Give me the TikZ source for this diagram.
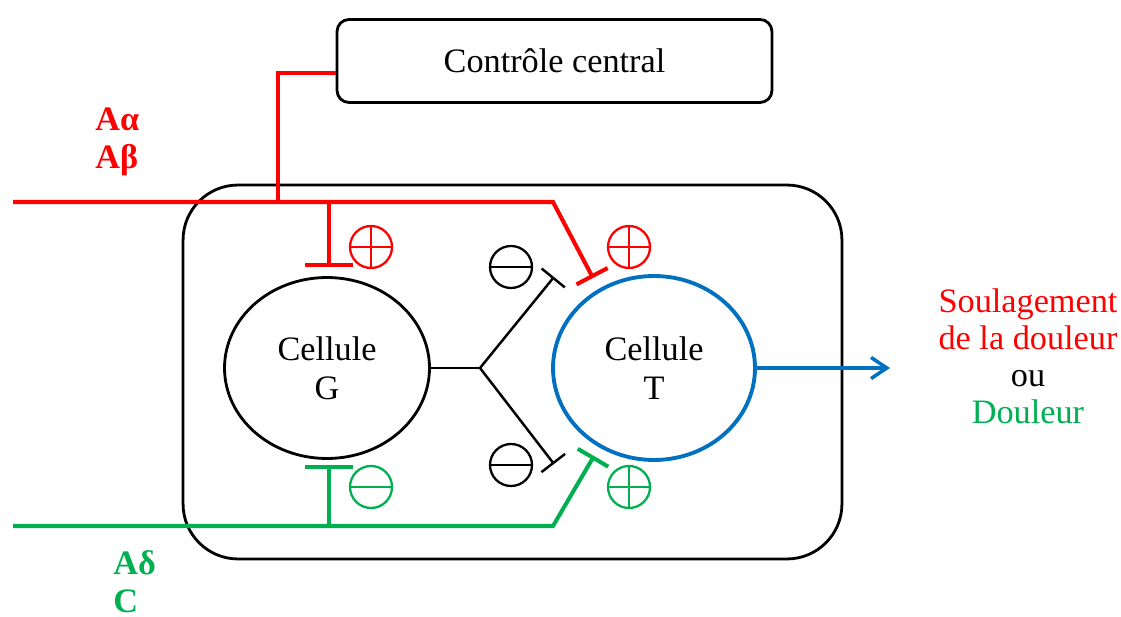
\documentclass[tikz,border=0pt]{standalone}
\usepackage{fontspec}
\setmainfont{Liberation Serif}
\usetikzlibrary{arrows.meta}
\usetikzlibrary{positioning}
\usetikzlibrary{shapes.geometric}

\definecolor{fibred}{RGB}{255,0,0}
\definecolor{fibgreen}{RGB}{0,176,80}
\definecolor{cellblue}{RGB}{0,112,192}

\begin{document}
\begin{tikzpicture}[x=0.02cm, y=-0.02cm,
    every node/.style={font=\fontsize{19.5}{22}\selectfont},
    box/.style={draw, line width=1.6pt, rounded corners=0.24cm},
    cell/.style={ellipse, draw, line width=1.6pt, align=center, inner sep=0pt},
    fibre/.style={line width=2.3pt},
    link/.style={line width=1.4pt},
    inhibwide/.style={-{Bar[width=27pt]}},
    inhibnarrow/.style={-{Bar[width=20pt]}},
    sign/.style={circle, draw, line width=1.3pt, minimum size=0.84cm, inner sep=0pt},
    minuscirc/.style={sign, path picture={
        \draw[line width=1.3pt] (path picture bounding box.west) -- (path picture bounding box.east);}},
    pluscirc/.style={sign, path picture={
        \draw[line width=1.3pt] (path picture bounding box.west) -- (path picture bounding box.east)
            (path picture bounding box.north) -- (path picture bounding box.south);}}]
    \useasboundingbox (0,0) rectangle (1121,617);

    % boxes and cells
    \node[box, minimum width=8.7cm, minimum height=1.66cm] (ctrl) at (554.5,61) {Contrôle central};
    \node[box, rounded corners=1.1cm, minimum width=13.18cm, minimum height=7.48cm] (horn) at (512.5,372) {};
    \node[cell, minimum width=4.1cm, minimum height=3.62cm] (G) at (327,368) {Cellule\\G};
    \node[cell, draw=cellblue, line width=2.2pt, minimum width=4.04cm, minimum height=3.68cm] (T) at (654,368) {Cellule\\T};

    % fibres
    \coordinate (abIn) at (13,202);
    \coordinate (abKnee) at (553,202);
    \coordinate (abT) at (593,278);
    \coordinate (abG) at (329,267);
    \coordinate (ctrlKnee) at (278,73);
    \coordinate (dcIn) at (13,526);
    \coordinate (dcKnee) at (553,526);
    \coordinate (dcT) at (594,456);
    \coordinate (dcG) at (329,465);

    \draw[fibre, fibred] (ctrl.west |- ctrlKnee) -- (ctrlKnee) -- (ctrlKnee |- abIn);
    \draw[fibre, fibred, inhibnarrow] (abIn) -- (abKnee) -- (abT);
    \draw[fibre, fibred, inhibwide] (abIn -| abG) -- (abG);
    \draw[fibre, fibgreen, inhibnarrow] (dcIn) -- (dcKnee) -- (dcT);
    \draw[fibre, fibgreen, inhibwide] (dcIn -| dcG) -- (dcG);

    % G to T
    \coordinate (fork) at (480,368);
    \coordinate (gUp) at (554,277);
    \coordinate (gDown) at (554,464);
    \draw[link] (G.east) -- (fork);
    \draw[link, -{Bar[width=17pt]}] (fork) -- (gUp);
    \draw[link, -{Bar[width=17pt]}] (fork) -- (gDown);

    % signs
    \node[pluscirc, fibred] (abGsign) at (371,247) {};
    \node[pluscirc, fibred] (abTsign) at (629,247) {};
    \node[minuscirc] (gUpSign) at (511,267) {};
    \node[minuscirc] (gDownSign) at (511,465) {};
    \node[minuscirc, fibgreen] (dcGsign) at (371,487) {};
    \node[pluscirc, fibgreen] (dcTsign) at (629,487) {};

    % output
    \coordinate (out) at (890,368);
    \draw[cellblue, line width=2pt, -{Straight Barb[length=9pt, width=12pt]}] (T.east) -- (out);
    \node[align=center, font=\fontsize{19.5}{21}\selectfont] (result) at (1028,356)
        {\textcolor{fibred}{Soulagement}\\\textcolor{fibred}{de la douleur}\\ou\\\textcolor{fibgreen}{Douleur}};

    % fibre labels
    \node[anchor=west, align=left, text=fibred, inner sep=0pt,
        font=\fontsize{19.5}{21.5}\selectfont\bfseries] (abLabel) at (95,142) {Aα\\Aβ};
    \node[anchor=west, align=left, text=fibgreen, inner sep=0pt,
        font=\fontsize{19.5}{21.5}\selectfont\bfseries] (dcLabel) at (113,582) {Aδ\\C};
\end{tikzpicture}
\end{document}
